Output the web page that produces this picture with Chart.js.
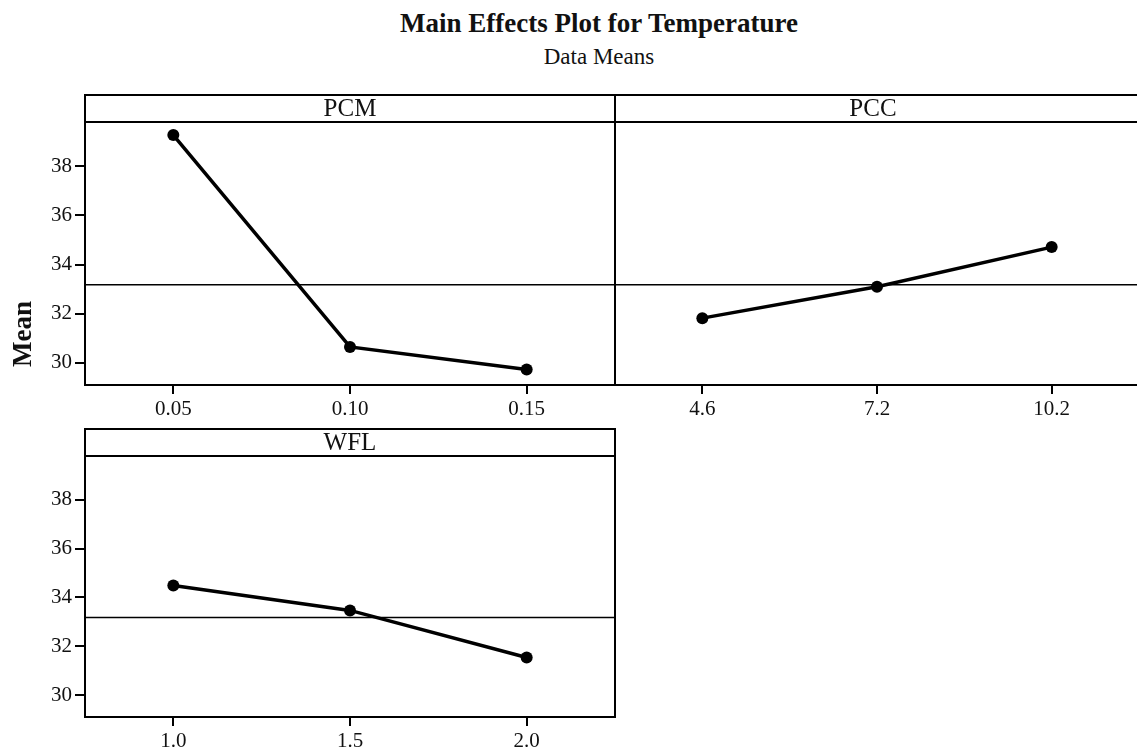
<!DOCTYPE html>
<html>
<head>
<meta charset="utf-8">
<script src="https://cdn.jsdelivr.net/npm/chart.js@4.4.1/dist/chart.umd.min.js"></script>
<style>
  html, body { margin: 0; padding: 0; background: #fff; overflow: hidden; }
  body { width: 1137px; height: 749px; position: relative; font-family: "Liberation Serif", serif; color: #111; }
  canvas { position: absolute; }
  .title { position: absolute; left: 0; width: 1198px; text-align: center; white-space: nowrap; }
  #mainTitle { top: 10px; font-size: 27px; line-height: 27px; font-weight: bold; }
  #subTitle { top: 45px; font-size: 23px; line-height: 23px; }
  #yTitle { position: absolute; left: -28px; top: 319px; width: 100px; height: 30px; line-height: 30px;
            text-align: center; font-size: 27px; font-weight: bold; transform: rotate(-90deg); white-space: nowrap; }
</style>
</head>
<body>
<div class="title" id="mainTitle">Main Effects Plot for Temperature</div>
<div class="title" id="subTitle">Data Means</div>
<canvas id="pcm" width="620" height="335" style="left:0;top:90px"></canvas>
<canvas id="pcc" width="535" height="335" style="left:605px;top:90px"></canvas>
<canvas id="wfl" width="620" height="325" style="left:0;top:424px"></canvas>
<div id="yTitle">Mean</div>
<script>
// factor levels and data means
const pcmLevels = ['0.05', '0.10', '0.15'];
const pcmMeans = [39.27, 30.65, 29.73];
const pccLevels = ['4.6', '7.2', '10.2'];
const pccMeans = [31.82, 33.10, 34.71];
const wflLevels = ['1.0', '1.5', '2.0'];
const wflMeans = [34.49, 33.47, 31.54];
const grandMean = 33.18;
const yTicks = [30, 32, 34, 36, 38];
const yMin = 29.1, yMax = 39.8;

const serif = '"Liberation Serif", "Times New Roman", serif';

// frame, header strip and grand-mean reference line for each panel
const panelFrame = {
  id: 'panelFrame',
  beforeDatasetsDraw(chart) {
    const { ctx, chartArea: a } = chart;
    const ym = chart.scales.y.getPixelForValue(grandMean);
    ctx.save();
    ctx.strokeStyle = '#000';
    ctx.lineWidth = 1.6;
    ctx.beginPath();
    ctx.moveTo(a.left, ym);
    ctx.lineTo(a.right, ym);
    ctx.stroke();
    ctx.restore();
  },
  afterDraw(chart, args, opts) {
    const { ctx, chartArea: a } = chart;
    const h = 27;
    ctx.save();
    ctx.strokeStyle = '#000';
    ctx.lineWidth = 2;
    ctx.strokeRect(a.left, a.top - h, a.right - a.left, a.bottom - a.top + h);
    ctx.beginPath();
    ctx.moveTo(a.left, a.top);
    ctx.lineTo(a.right, a.top);
    ctx.stroke();
    ctx.fillStyle = '#111';
    ctx.font = '25px ' + serif;
    ctx.textAlign = 'center';
    ctx.textBaseline = 'middle';
    const cx = opts.centerX != null ? opts.centerX : (a.left + a.right) / 2;
    ctx.fillText(opts.label, cx, a.top - h / 2 + 1);
    ctx.restore();
  }
};

function makePanel(id, label, levels, means, showY, padding, xHeight, centerX) {
  const ctx = document.getElementById(id);
  return new Chart(ctx, {
    type: 'line',
    data: {
      labels: levels,
      datasets: [{
        data: means,
        borderColor: '#000',
        backgroundColor: '#000',
        borderWidth: 3.5,
        pointRadius: 6,
        pointBackgroundColor: '#000',
        pointBorderWidth: 0,
        tension: 0
      }]
    },
    options: {
      responsive: false,
      animation: false,
      layout: { padding: padding, autoPadding: false },
      plugins: {
        legend: { display: false },
        tooltip: { enabled: false },
        panelFrame: { label: label, centerX: centerX }
      },
      scales: {
        x: {
          type: 'category',
          offset: true,
          border: { display: false },
          grid: { drawOnChartArea: false, drawTicks: true, tickLength: 9, color: '#000', lineWidth: 2 },
          ticks: { color: '#111', font: { family: serif, size: 21 }, padding: 3, maxRotation: 0 },
          afterFit: s => { s.height = xHeight; }
        },
        y: {
          display: showY,
          min: yMin,
          max: yMax,
          border: { display: false },
          grid: { drawOnChartArea: false, drawTicks: true, tickLength: 10, color: '#000', lineWidth: 2 },
          ticks: { color: '#111', font: { family: serif, size: 21 }, padding: 3 },
          afterBuildTicks: s => { s.ticks = yTicks.map(v => ({ value: v })); },
          afterFit: s => { if (showY) s.width = 85; }
        }
      }
    },
    plugins: [panelFrame]
  });
}

makePanel('pcm', 'PCM', pcmLevels, pcmMeans, true, { top: 32, right: 5, left: 0, bottom: 0 }, 40);
makePanel('pcc', 'PCC', pccLevels, pccMeans, false, { top: 32, right: 1, left: 10, bottom: 0 }, 40, 268);
makePanel('wfl', 'WFL', wflLevels, wflMeans, true, { top: 32, right: 5, left: 0, bottom: 0 }, 32);
</script>
</body>
</html>
